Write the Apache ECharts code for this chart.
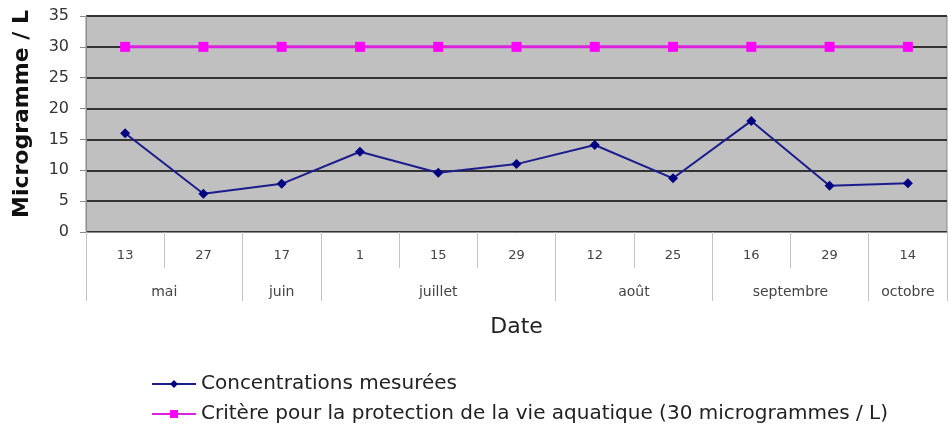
<!DOCTYPE html>
<html>
<head>
<meta charset="utf-8">
<script src="https://cdn.jsdelivr.net/npm/echarts@6/dist/echarts.min.js"></script>
<style>
  html, body { margin: 0; padding: 0; background: #fff; }
  #chart { width: 948px; height: 432px; }
</style>
</head>
<body>
<div id="chart"></div>
<script>
// dates de prélèvement (jour) et mois
var days = ["13", "27", "17", "1", "15", "29", "12", "25", "16", "29", "14"];
var months = ["mai", "juin", "juillet", "août", "septembre", "octobre"];
var monthSpans = [2, 1, 3, 2, 2, 1]; // nombre de dates par mois

// valeurs en microgrammes / L
var concentrations = [16, 6.2, 7.8, 13, 9.6, 11, 14.1, 8.7, 18, 7.5, 7.9];
var critere = [30, 30, 30, 30, 30, 30, 30, 30, 30, 30, 30];

var yTicks = { min: 0, max: 35, interval: 5 };

// limites et centres des mois sur l'axe (en unités de catégorie)
var monthEdges = [0];
var monthCenters = [];
monthSpans.forEach(function (n, i) {
  var start = monthEdges[i];
  monthEdges.push(start + n);
  monthCenters.push(start + n / 2);
});

var font = "DejaVu Sans";
var chart = echarts.init(document.getElementById("chart"));

chart.setOption({
  animation: false,
  textStyle: { fontFamily: font },
  grid: {
    left: 86,
    right: 1,
    top: 16,
    height: 216,
    show: true,
    backgroundColor: "#c0c0c0",
    borderColor: "#8c8c8c",
    borderWidth: 1
  },
  legend: {
    orient: "vertical",
    left: 146,
    top: 369,
    itemWidth: 44,
    itemHeight: 10,
    itemGap: 10,
    textStyle: { fontFamily: font, fontSize: 20, color: "#222" },
    data: ["Concentrations mesurées", "Critère pour la protection de la vie aquatique (30 microgrammes / L)"]
  },
  xAxis: [
    {
      type: "category",
      data: days,
      boundaryGap: true,
      position: "bottom",
      name: "Date",
      nameLocation: "middle",
      nameGap: 84,
      nameTextStyle: { fontFamily: font, fontSize: 22, color: "#222" },
      axisLine: { show: true, lineStyle: { color: "#8c8c8c" } },
      axisTick: { show: true, interval: 0, length: 36, lineStyle: { color: "#c4c4c4" } },
      axisLabel: { interval: 0, margin: 17, fontSize: 13, color: "#444", fontFamily: font },
      splitLine: { show: false }
    },
    {
      type: "value",
      min: 0,
      max: days.length,
      position: "bottom",
      axisLine: { show: false },
      axisTick: {
        show: true,
        customValues: monthEdges,
        length: 69,
        lineStyle: { color: "#c4c4c4" }
      },
      axisLabel: {
        show: true,
        customValues: monthCenters,
        margin: 53,
        fontSize: 14,
        color: "#444",
        fontFamily: font,
        formatter: function (v) {
          var i = monthCenters.indexOf(v);
          return i >= 0 ? months[i] : "";
        }
      },
      splitLine: { show: false }
    }
  ],
  yAxis: {
    type: "value",
    min: yTicks.min,
    max: yTicks.max,
    interval: yTicks.interval,
    name: "Microgramme / L",
    nameLocation: "middle",
    nameGap: 53,
    nameTextStyle: { fontFamily: font, fontSize: 22, fontWeight: "bold", color: "#111", padding: [0, 0, 0, 20] },
    axisLine: { show: true, lineStyle: { color: "#8c8c8c" } },
    axisTick: { show: true, length: 6, lineStyle: { color: "#8c8c8c" } },
    axisLabel: { margin: 17, fontSize: 16, color: "#333", fontFamily: font },
    splitLine: { show: true, lineStyle: { color: "#333", width: 2 } }
  },
  series: [
    {
      name: "Concentrations mesurées",
      type: "line",
      data: concentrations,
      symbol: "diamond",
      symbolSize: 10,
      color: "#000080",
      lineStyle: { width: 2, color: "#1c1c8c" },
      itemStyle: { color: "#000080" },
      z: 3
    },
    {
      name: "Critère pour la protection de la vie aquatique (30 microgrammes / L)",
      type: "line",
      data: critere,
      symbol: "rect",
      symbolSize: 10,
      color: "#ff00ff",
      lineStyle: { width: 3, color: "#dd22dd" },
      itemStyle: { color: "#ff00ff" },
      z: 3
    }
  ]
});
</script>
</body>
</html>
